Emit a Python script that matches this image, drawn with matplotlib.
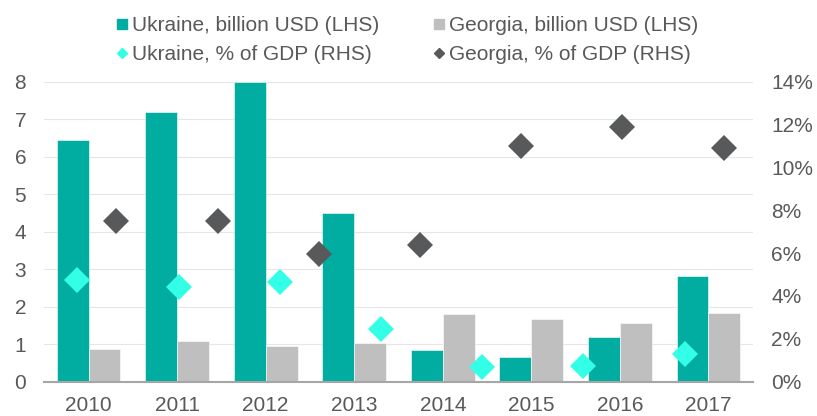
import matplotlib
matplotlib.use("Agg")
import matplotlib.pyplot as plt
from matplotlib.lines import Line2D
import numpy as np

plt.rcParams['font.family'] = ['Liberation Sans', 'DejaVu Sans']

years = ['2010', '2011', '2012', '2013', '2014', '2015', '2016', '2017']
ukraine_usd = [6.44, 7.20, 8.00, 4.50, 0.85, 0.67, 1.18, 2.82]
georgia_usd = [0.86, 1.08, 0.94, 1.02, 1.81, 1.66, 1.56, 1.82]

# share of GDP series (7 observations, spread over the width of the plot)
ukraine_gdp = [4.75, 4.43, 4.65, 2.46, 0.67, 0.73, 1.28]
georgia_gdp = [7.49, 7.50, 5.96, 6.38, 11.01, 11.87, 10.92]

teal = '#00ADA0'
grey = '#BFBFBF'
cyan = '#33FFE6'
dark = '#58595B'
text_col = '#595959'
fs = 15

fig = plt.figure(figsize=(8.17, 4.16), dpi=100)
ax = fig.add_axes([0.0542, 0.0825, 0.8671, 0.7211])
ax2 = ax.twinx()

x = np.arange(len(years))
w = 0.36
ax.bar(x - w / 2, ukraine_usd, w, color=teal, edgecolor='white', linewidth=0.4, zorder=2)
ax.bar(x + w / 2, georgia_usd, w, color=grey, edgecolor='white', linewidth=0.4, zorder=2)

ax.set_xlim(-0.5, len(years) - 0.5)
ax.set_ylim(0, 8)
ax.set_yticks(range(0, 9))
ax.set_xticks(x)
ax.set_xticklabels(years)
ax.yaxis.grid(True, color='#E6E6E6', linewidth=0.8, zorder=0)
ax.set_axisbelow(True)

# secondary series sit on a 7-slot grid across the same width
n = len(ukraine_gdp)
slot = len(years) / n
sx = -0.5 + (np.arange(n) + 0.5) * slot
ax2.plot(sx - 0.197, ukraine_gdp, linestyle='none', marker='D', ms=13.2,
         color=cyan, markeredgewidth=0, zorder=3)
ax2.plot(sx + 0.243, georgia_gdp, linestyle='none', marker='D', ms=13.2,
         color=dark, markeredgewidth=0, zorder=3)
ax2.set_ylim(0, 14)
ax2.set_yticks(range(0, 15, 2))
ax2.set_yticklabels([f'{v}%' for v in range(0, 15, 2)])

for a in (ax, ax2):
    for s in ('top', 'left', 'right', 'bottom'):
        a.spines[s].set_visible(False)
    a.tick_params(length=0, labelsize=fs, colors=text_col)
ax.spines['bottom'].set_visible(True)
ax.spines['bottom'].set_color('#A6A6A6')
ax.spines['bottom'].set_linewidth(1.5)
ax.tick_params(axis='y', pad=13)
ax.tick_params(axis='x', pad=10)
ax2.tick_params(axis='y', pad=13.5)

handles = [
    Line2D([], [], linestyle='none', marker='s', ms=7.2, color=teal),
    Line2D([], [], linestyle='none', marker='D', ms=5.2, color=cyan),
    Line2D([], [], linestyle='none', marker='s', ms=7.2, color=grey),
    Line2D([], [], linestyle='none', marker='D', ms=5.2, color=dark),
]
labels = ['Ukraine, billion USD (LHS)', 'Ukraine, % of GDP (RHS)',
          'Georgia, billion USD (LHS)', 'Georgia, % of GDP (RHS)']
fig.legend(handles, labels, ncol=2, loc='upper left',
           bbox_to_anchor=(117 / 817, 1 - 16 / 416),
           frameon=False, fontsize=fs, labelcolor=text_col, handlelength=0.48,
           handletextpad=0.25, columnspacing=2.6, labelspacing=0.5,
           borderpad=0, borderaxespad=0)

fig.savefig('out.png', dpi=100)
